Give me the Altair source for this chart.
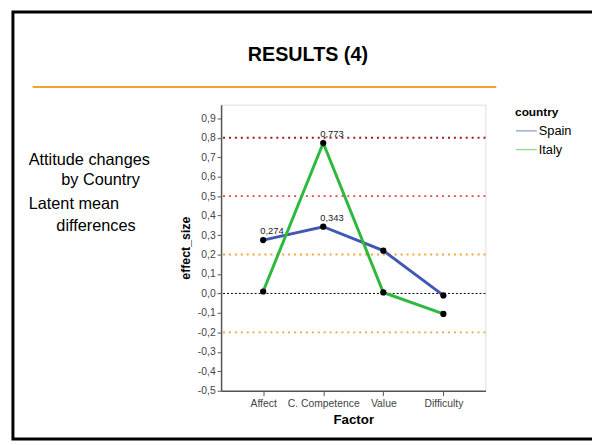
import altair as alt
import pandas as pd

factors = ["Affect", "C. Competence", "Value", "Difficulty"]
countries = ["Spain", "Italy"]
spain = [0.274, 0.343, 0.220, -0.010]
italy = [0.010, 0.773, 0.005, -0.105]
label_factors = ["Affect", "C. Competence", "C. Competence"]
label_values = [0.274, 0.343, 0.773]
label_texts = ["0,274", "0,343", "0,773"]
large_effect = [0.8]
medium_effect = [0.5]
small_effect = [0.2, -0.2]
zero_line = [0.0]
y_ticks = [-0.5, -0.4, -0.3, -0.2, -0.1, 0.0, 0.1, 0.2, 0.3, 0.4, 0.5, 0.6, 0.7, 0.8, 0.9]
left_notes = ["Attitude changes", "by Country", "Latent mean", "differences"]

FONT = "Liberation Sans"

rows = []
for c, vals in zip(countries, [spain, italy]):
    for f, v in zip(factors, vals):
        rows.append({"country": c, "Factor": f, "effect_size": v})
df = pd.DataFrame(rows)
lab = pd.DataFrame({"Factor": label_factors, "effect_size": label_values, "txt": label_texts})

xsc = alt.Scale(type="point", domain=factors, padding=0.7)
ysc = alt.Scale(domain=[-0.5, 0.97], nice=False, zero=False)

x_axis = alt.Axis(title="Factor", labelAngle=0, labelColor="#444", labelFontSize=10.5,
                  labelFont=FONT, titleFont=FONT, titleFontSize=13.5, titleFontWeight="bold",
                  titleColor="#000", domainColor="#555", domainWidth=1.5,
                  tickColor="#555", tickSize=5, labelOverlap=False,
                  labelPadding=3, titlePadding=4, grid=False)
y_axis = alt.Axis(title="effect_size", values=y_ticks, grid=False, labelOverlap=False,
                  labelExpr="(datum.value < -0.001 ? '-' : '') + replace(format(abs(datum.value), '.1f'), '.', ',')",
                  labelColor="#444", labelFontSize=10.5, labelFont=FONT,
                  titleFont=FONT, titleFontSize=12.5, titleFontWeight="bold", titleColor="#000",
                  domainColor="#555", domainWidth=1.5, tickColor="#555", tickSize=4,
                  labelPadding=2, titlePadding=5)
x_enc = alt.X("Factor:N", scale=xsc, sort=factors, axis=x_axis)
y_enc = alt.Y("effect_size:Q", scale=ysc, axis=y_axis)

def rule_layer(vals, color, width, dash):
    return alt.Chart(pd.DataFrame({"effect_size": vals})).mark_rule(
        color=color, strokeWidth=width, strokeDash=dash).encode(y=y_enc)

rules = (rule_layer(large_effect, "#A31515", 2, [2, 4])
         + rule_layer(medium_effect, "#F0404A", 2, [2, 4])
         + rule_layer(small_effect, "#F9A13A", 2, [2, 4])
         + rule_layer(zero_line, "#000000", 1, [2, 2]))

lines = alt.Chart(df).mark_line(strokeWidth=3).encode(
    x=x_enc, y=y_enc,
    color=alt.Color("country:N", scale=alt.Scale(domain=countries, range=["#4257B2", "#2EB83E"]),
                    sort=countries,
                    legend=alt.Legend(title="country", orient="none", legendX=298, legendY=2,
                                      symbolType="stroke", symbolSize=440, symbolStrokeWidth=1.5,
                                      symbolOpacity=0.5, titleFont=FONT, titleFontSize=12,
                                      titleFontWeight="bold", labelFont=FONT, labelFontSize=13,
                                      labelOffset=1, rowPadding=0, titlePadding=1)),
    order=alt.Order("country:N", sort="descending"),
)
points = alt.Chart(df).mark_point(filled=True, color="black", size=40, opacity=1).encode(
    x=x_enc, y=y_enc)
labels = alt.Chart(lab).mark_text(align="left", baseline="alphabetic", dx=-3, dy=-6,
                                  fontSize=9.5, font=FONT, color="#222").encode(
    x=x_enc, y=y_enc, text="txt:N")

# Slide decoration
frame = alt.Chart(pd.DataFrame({"a": [0]})).mark_rect(fill=None, stroke="black", strokeWidth=3, clip=False).encode(
    x=alt.value(-211), x2=alt.value(500), y=alt.value(-94), y2=alt.value(339))
title = alt.Chart(pd.DataFrame({"t": ["RESULTS (4)"]})).mark_text(
    font=FONT, fontSize=20, fontWeight="bold", color="black", align="center", baseline="middle", clip=False
).encode(x=alt.value(88), y=alt.value(-50), text="t:N")
orange = alt.Chart(pd.DataFrame({"a": [0]})).mark_rule(color="#F5A12A", strokeWidth=2, clip=False).encode(
    x=alt.value(-191), x2=alt.value(279), y=alt.value(-18))
note_layers = []
note_x = [-195, -162, -195, -167]
note_y = [56, 76, 101, 123]
for t, xx, yy in zip(left_notes, note_x, note_y):
    note_layers.append(alt.Chart(pd.DataFrame({"t": [t]})).mark_text(
        font=FONT, fontSize=16.5, color="black", align="left", baseline="middle").encode(
        x=alt.value(xx), y=alt.value(yy), text="t:N"))

chart = alt.layer(frame, title, orange, *note_layers, rules, lines, points, labels).properties(
    width=268, height=290,
    autosize=alt.AutoSizeParams(type="none"),
    padding={"left": 216, "top": 95, "right": 108, "bottom": 52},
).configure_view(stroke="#999", strokeWidth=1).configure(background="white")

chart.save("out.html", embed_options={"renderer": "svg", "actions": False})
